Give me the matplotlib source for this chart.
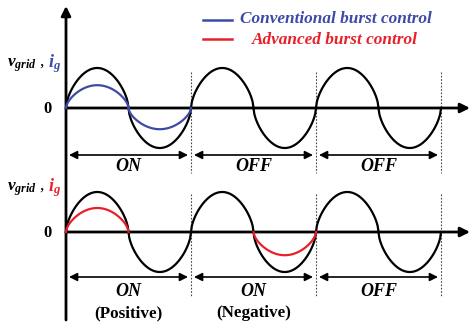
import numpy as np
import matplotlib.pyplot as plt

plt.rcParams['mathtext.fontset'] = 'custom'
plt.rcParams['mathtext.it'] = 'Liberation Serif:italic:bold'
plt.rcParams['mathtext.rm'] = 'Liberation Serif:bold'
plt.rcParams['font.family'] = 'Liberation Serif'

# amplitude of each half cycle (p.u.), three line cycles per trace
v_grid = [1, -1, 1, -1, 1, -1]
i_conv = [0.57, -0.53, 0, 0, 0, 0]
i_adv = [0.6, 0, 0, -0.58, 0, 0]

top_labels = ['ON', 'OFF', 'OFF']
bot_labels = ['ON', 'ON', 'OFF']
bot_sub = ['(Positive)', '(Negative)', '']

blue = '#3d4ba6'
red = '#e8202a'

x0, half, amp = 66, 62.5, 40
base_top, base_bot = 108, 232


def half_wave(k, a, base):
    t = np.linspace(0, 1, 80)
    x = x0 + (k + t) * half
    y = base - a * amp * np.sin(np.pi * t) ** 0.6
    return x, y


fig = plt.figure(figsize=(4.7, 3.22), dpi=100)
ax = fig.add_axes([0, 0, 1, 1])
ax.set_xlim(0, 470)
ax.set_ylim(322, 0)
ax.axis('off')

arr = dict(arrowstyle='-|>', lw=2, color='black', mutation_scale=14,
           shrinkA=0, shrinkB=0)
ax.annotate('', xy=(66, 6), xytext=(66, 320), arrowprops=arr)
for base in (base_top, base_bot):
    ax.annotate('', xy=(470, base), xytext=(66, base), arrowprops=arr)

for base, cur, col in ((base_top, i_conv, blue), (base_bot, i_adv, red)):
    for k, a in enumerate(v_grid):
        ax.plot(*half_wave(k, a, base), color='black', lw=1.6, zorder=3)
    for k, a in enumerate(cur):
        if a != 0:
            ax.plot(*half_wave(k, a, base), color=col, lw=1.6, zorder=4)

# cycle boundaries
for c in range(1, 4):
    xb = x0 + 2 * c * half
    ax.plot([xb, xb], [72, 173], color='#444444', lw=0.8, ls=(0, (1.5, 1.5)))
    ax.plot([xb, xb], [194, 297], color='#444444', lw=0.8, ls=(0, (1.5, 1.5)))

dbl = dict(arrowstyle='<|-|>', lw=1.2, color='black', mutation_scale=12,
           shrinkA=0, shrinkB=0)
for c in range(3):
    xa = x0 + 2 * c * half
    xb = xa + 2 * half
    ax.annotate('', xy=(xa + 3, 155), xytext=(xb - 3, 155), arrowprops=dbl)
    ax.annotate('', xy=(xa + 3, 277), xytext=(xb - 3, 277), arrowprops=dbl)
    xm = (xa + xb) / 2
    ax.text(xm, 166, top_labels[c], ha='center', va='center', fontsize=13,
            fontweight='bold', fontstyle='italic')
    ax.text(xm, 292, bot_labels[c], ha='center', va='center', fontsize=13,
            fontweight='bold', fontstyle='italic')
    if bot_sub[c]:
        ax.text(xm, 313, bot_sub[c], ha='center', va='center', fontsize=12.3,
                fontweight='bold')

for base, col in ((base_top, blue), (base_bot, red)):
    ax.text(48, base + 1, '0', ha='center', va='center', fontsize=12,
            fontweight='bold')
    yl = base - 41
    ax.text(45, yl, r'$v_{grid}$ ,', ha='right', va='baseline', fontsize=12.3)
    ax.text(48, yl, r'$i_g$', ha='left', va='baseline', fontsize=13, color=col)

# legend
ax.plot([203, 232], [20, 20], color=blue, lw=1.8)
ax.plot([203, 232], [39, 39], color=red, lw=1.8)
ax.text(240, 19, 'Conventional burst control', ha='left', va='center',
        fontsize=12.4, fontweight='bold', fontstyle='italic', color=blue)
ax.text(252, 40, 'Advanced burst control', ha='left', va='center',
        fontsize=12.4, fontweight='bold', fontstyle='italic', color=red)

fig.savefig('out.png', dpi=100)
